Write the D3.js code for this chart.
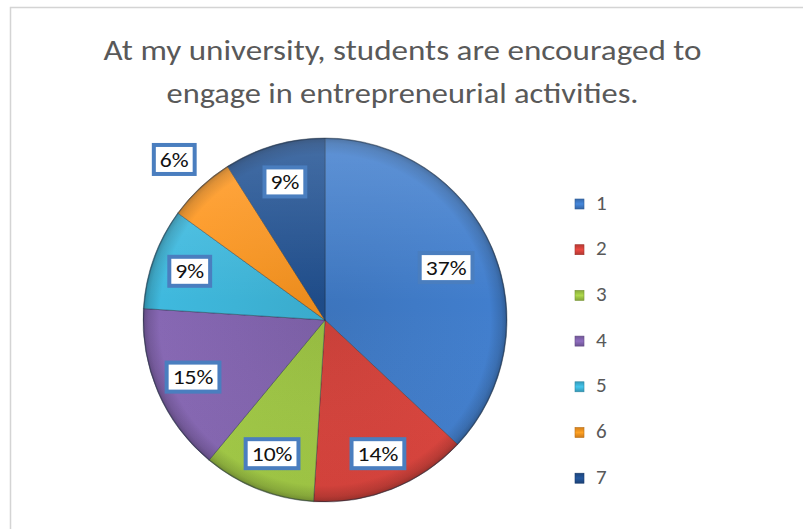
<!DOCTYPE html>
<html>
<head>
<meta charset="utf-8">
<script src="https://cdn.jsdelivr.net/npm/d3@7"></script>
<style>
  html, body { margin: 0; padding: 0; background: #ffffff; }
  svg { display: block; }
</style>
</head>
<body>
<svg id="chart" width="803" height="529"></svg>
<script>
// ---- data ----
const titleLines = ["At my university, students are encouraged to", "engage in entrepreneurial activities."];
const categories = ["1", "2", "3", "4", "5", "6", "7"];
const shares = [37, 14, 10, 15, 9, 6, 9];
const sliceColors = ["#3f7ac6", "#d3423b", "#9dc444", "#8163ad", "#3db3d6", "#f5921f", "#204f8e"];

// ---- layout ----
const W = 803, H = 529;
const cx = 325, cy = 320, R = 182;
const labelRadius = 0.79 * R;
// slices whose labels sit away from the default ring
const labelRadiusOverride = { 0: 0.725 * R, 5: 1.21 * R };
const bodyFont = "Carlito, Calibri, Lato, 'Open Sans', sans-serif";

const svg = d3.select("#chart");
const defs = svg.append("defs");

// chart frame
svg.append("path")
  .attr("d", `M10.5,${H + 2} L10.5,7.5 L${W + 2},7.5`)
  .attr("fill", "none")
  .attr("stroke", "#d4d4d4")
  .attr("stroke-width", 1.5);

// title, fitted to its line widths
const title = svg.append("g").attr("fill", "#595959");
const titleWidths = [598, 472];
titleLines.forEach((line, i) => {
  title.append("text")
    .attr("x", 402.5)
    .attr("y", 60 + i * 43)
    .attr("text-anchor", "middle")
    .style("font-family", bodyFont)
    .style("font-size", "28px")
    .attr("textLength", titleWidths[i])
    .attr("lengthAdjust", "spacingAndGlyphs")
    .text(line);
});

// shaded fills for the slices: lighter body, darker bevelled rim
sliceColors.forEach((c, i) => {
  const base = d3.color(c);
  const g = defs.append("radialGradient")
    .attr("id", "slice-grad-" + i)
    .attr("gradientUnits", "userSpaceOnUse")
    .attr("cx", 0).attr("cy", 0).attr("r", R);
  g.append("stop").attr("offset", "0%").attr("stop-color", base.darker(0.15));
  g.append("stop").attr("offset", "50%").attr("stop-color", base);
  g.append("stop").attr("offset", "91%").attr("stop-color", base.brighter(0.1));
  g.append("stop").attr("offset", "97%").attr("stop-color", base.darker(0.3));
  g.append("stop").attr("offset", "100%").attr("stop-color", base.darker(0.8));

  const lg = defs.append("linearGradient")
    .attr("id", "legend-grad-" + i)
    .attr("x1", 0).attr("y1", 0).attr("x2", 0).attr("y2", 1);
  lg.append("stop").attr("offset", "0%").attr("stop-color", base.darker(0.4));
  lg.append("stop").attr("offset", "50%").attr("stop-color", base.brighter(0.3));
  lg.append("stop").attr("offset", "100%").attr("stop-color", base.darker(0.5));
});

// soft top highlight across the whole pie
const hl = defs.append("linearGradient")
  .attr("id", "pie-highlight")
  .attr("gradientUnits", "userSpaceOnUse")
  .attr("x1", 0).attr("y1", -R).attr("x2", 0).attr("y2", R);
hl.append("stop").attr("offset", "0%").attr("stop-color", "#ffffff").attr("stop-opacity", 0.16);
hl.append("stop").attr("offset", "45%").attr("stop-color", "#ffffff").attr("stop-opacity", 0.0);
hl.append("stop").attr("offset", "100%").attr("stop-color", "#000000").attr("stop-opacity", 0.05);

const pie = d3.pie().sort(null).value(d => d)(shares);
const arc = d3.arc().innerRadius(0).outerRadius(R);

const pieG = svg.append("g").attr("transform", `translate(${cx},${cy})`);

pieG.selectAll("path.slice")
  .data(pie)
  .join("path")
  .attr("class", "slice")
  .attr("d", arc)
  .attr("fill", (d, i) => `url(#slice-grad-${i})`)
  .attr("stroke", "#1b2a3a")
  .attr("stroke-opacity", 0.5)
  .attr("stroke-width", 0.8)
  .attr("stroke-linejoin", "round");

pieG.append("circle")
  .attr("r", R)
  .attr("fill", "url(#pie-highlight)");

pieG.append("circle")
  .attr("r", R - 0.5)
  .attr("fill", "none")
  .attr("stroke", "#233040")
  .attr("stroke-opacity", 0.4)
  .attr("stroke-width", 1.2);

// data labels in bordered boxes
const labelG = svg.append("g").attr("transform", `translate(${cx},${cy})`);
pie.forEach((d, i) => {
  const a = (d.startAngle + d.endAngle) / 2;
  const r = labelRadiusOverride[i] !== undefined ? labelRadiusOverride[i] : labelRadius;
  const x = Math.sin(a) * r;
  const y = -Math.cos(a) * r;
  const g = labelG.append("g").attr("transform", `translate(${x},${y})`);
  const t = g.append("text")
    .attr("text-anchor", "middle")
    .attr("dy", "0.36em")
    .style("font-family", bodyFont)
    .style("font-size", "20px")
    .attr("fill", "#111111")
    .text(d.data + "%");
  const tw = t.node().getComputedTextLength() * 1.18;
  t.attr("textLength", tw).attr("lengthAdjust", "spacingAndGlyphs");
  const bw = tw + 12, bh = 29;
  g.insert("rect", "text")
    .attr("x", -bw / 2).attr("y", -bh / 2)
    .attr("width", bw).attr("height", bh)
    .attr("fill", "#ffffff")
    .attr("stroke", "#4a7ebf")
    .attr("stroke-width", 4);
});

// legend
const legend = svg.append("g").attr("transform", "translate(575,199)");
const rowH = 45.7;
const rows = legend.selectAll("g.row")
  .data(categories)
  .join("g")
  .attr("class", "row")
  .attr("transform", (d, i) => `translate(0,${i * rowH})`);
rows.append("rect")
  .attr("width", 9).attr("height", 10)
  .attr("fill", (d, i) => `url(#legend-grad-${i})`)
  .attr("stroke", (d, i) => d3.color(sliceColors[i]).darker(0.8))
  .attr("stroke-width", 0.6);
rows.append("text")
  .attr("x", 21)
  .attr("y", 10.5)
  .style("font-family", bodyFont)
  .style("font-size", "21px")
  .attr("fill", "#595959")
  .text(d => d);
</script>
</body>
</html>
